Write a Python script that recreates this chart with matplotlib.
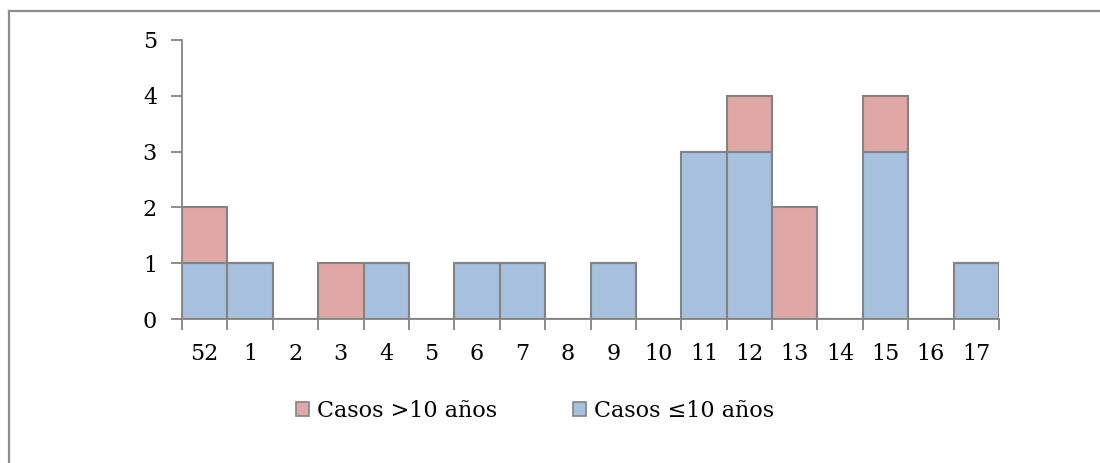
import matplotlib
matplotlib.use("Agg")
import matplotlib.pyplot as plt
from matplotlib.patches import Patch
from matplotlib.lines import Line2D
import numpy as np

weeks = ["52", "1", "2", "3", "4", "5", "6", "7", "8", "9",
         "10", "11", "12", "13", "14", "15", "16", "17"]
casos_menor_igual_10 = [1, 1, 0, 0, 1, 0, 1, 1, 0, 1, 0, 3, 3, 0, 0, 3, 0, 1]
casos_mayor_10 = [1, 0, 0, 1, 0, 0, 0, 0, 0, 0, 0, 0, 1, 2, 0, 1, 0, 0]

blue = "#A7C0DE"
red = "#DFA7A6"
edge = "#838383"

plt.rcParams["font.family"] = ["DejaVu Serif"]
FS = 16

W, H = 1100, 463
fig = plt.figure(figsize=(W / 100, H / 100), dpi=100)
ax = fig.add_axes([182 / W, 1 - 319 / H, (999 - 182) / W, (319 - 40) / H])

x = np.arange(len(weeks))
ax.bar(x, casos_menor_igual_10, width=1.0, color=blue, edgecolor=edge, linewidth=1.5, zorder=3)
ax.bar(x, casos_mayor_10, width=1.0, bottom=casos_menor_igual_10, color=red,
       edgecolor=edge, linewidth=1.5, zorder=3)

ax.set_xlim(-0.5, len(weeks) - 0.5)
ax.set_ylim(0, 5)
ax.set_yticks(range(6))
ax.set_xticks(x)
ax.set_xticklabels(weeks)
ax.set_xticks(np.arange(-0.5, len(weeks)), minor=True)
ax.tick_params(axis="x", which="major", length=0, pad=17, labelsize=FS)
ax.tick_params(axis="x", which="minor", length=8, width=1.3, color=edge, direction="out")
ax.tick_params(axis="y", length=8, width=1.3, color=edge, pad=10, labelsize=FS)

for s in ["top", "right"]:
    ax.spines[s].set_visible(False)
for s in ["left", "bottom"]:
    ax.spines[s].set_color(edge)
    ax.spines[s].set_linewidth(1.3)

handles = [Patch(facecolor=red, edgecolor=edge, linewidth=1.2, label="Casos >10 años"),
           Patch(facecolor=blue, edgecolor=edge, linewidth=1.2, label="Casos ≤10 años")]
fig.legend(handles=handles, loc="center", bbox_to_anchor=(535 / W, 1 - 411 / H),
           ncol=2, frameon=False, fontsize=FS, handlelength=0.6, handleheight=0.6,
           handletextpad=0.35, columnspacing=3.4)

# outer frame (top and left edges)
fig.add_artist(Line2D([8.5 / W, 1], [1 - 10.5 / H, 1 - 10.5 / H], color="#8C8C8C", linewidth=1.6))
fig.add_artist(Line2D([8.5 / W, 8.5 / W], [0, 1 - 10.5 / H], color="#8C8C8C", linewidth=1.6))

fig.savefig("out.png", dpi=100)
